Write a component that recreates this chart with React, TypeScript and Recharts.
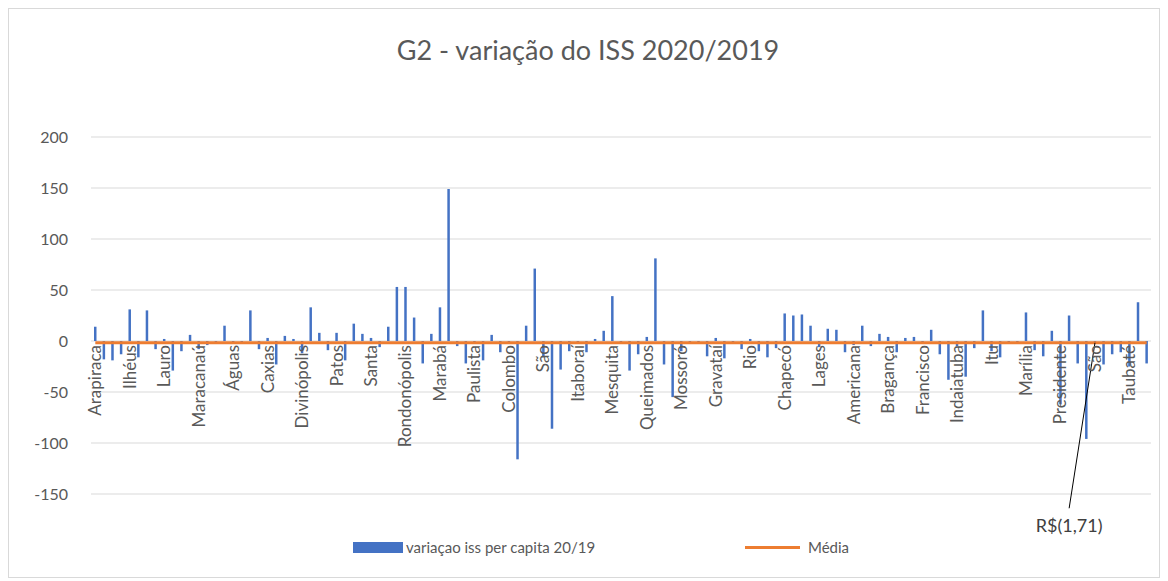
import React from 'react';
import { ComposedChart, Bar, Line, XAxis, YAxis, CartesianGrid, Legend, ReferenceLine, ReferenceDot } from 'recharts';

// ISS per capita variation 2020/2019, one value per city
const variacao = [
  14, -18, -19, -13, 31, -16, 30, -8, 2, -29,
  -10, 6, -8, -4, -1, 15, -1, -1, 30, -8,
  3, -23, 5, 2, -12, 33, 8, -9, 8, -19,
  17, 7, 3, -6, 14, 53, 53, 23, -22, 7,
  33, 149, -5, -22, -1, -19, 6, -11, -2, -116,
  15, 71, -16, -86, -28, -10, -1, -11, 2, 10,
  44, -1, -29, -13, 4, 81, -23, -55, -10, -1,
  -1, -15, 3, -17, -1, -8, 2, -10, -16, -7,
  27, 25, 26, 15, -6, 12, 11, -11, -4, 15,
  -5, 7, 4, -11, 3, 4, -1, 11, -13, -38,
  -5, -35, -7, 30, -10, -16, -1, -1, 28, -9,
  -15, 10, -62, 25, -22, -96, -3, -23, -13, -11,
  -25, 38, -22,
];

// every 4th city name is shown on the axis
const cityLabels = [
  'Arapiraca', 'Ilhéus', 'Lauro', 'Maracanaú', 'Águas', 'Caxias', 'Divinópolis', 'Patos',
  'Santa', 'Rondonópolis', 'Marabá', 'Paulista', 'Colombo', 'São', 'Itaboraí', 'Mesquita',
  'Queimados', 'Mossoró', 'Gravataí', 'Rio', 'Chapecó', 'Lages', 'Americana', 'Bragança',
  'Francisco', 'Indaiatuba', 'Itu', 'Marília', 'Presidente', 'São', 'Taubaté',
];
const LABEL_EVERY = 4;

const MEDIA = -1.71;
const yTicks = [-150, -100, -50, 0, 50, 100, 150, 200];

const data = variacao.map((v, i) => ({ i, variacao: v, media: MEDIA }));

const W = 1150;
const H = 568;
const MARGIN = { top: 128, right: 8, bottom: 0, left: 0 };
const X_AXIS_H = 83;
const Y_MIN = -150;
const Y_MAX = 200;
const PLOT_H = H - MARGIN.top - MARGIN.bottom - X_AXIS_H;
const ZERO_Y = MARGIN.top + (PLOT_H * Y_MAX) / (Y_MAX - Y_MIN);

const FONT = 'Lato, "Noto Sans", sans-serif';
const TEXT = '#595959';
const BLUE = '#4472C4';
const ORANGE = '#ED7D31';

function CityTick({ x, payload }: any) {
  const i = payload.value;
  if (i % LABEL_EVERY !== 0) return null;
  const label = cityLabels[i / LABEL_EVERY];
  const y = ZERO_Y + 4;
  return (
    <text x={x} y={y} transform={`rotate(-90, ${x}, ${y})`} textAnchor="end" dy="0.35em" fill={TEXT} fontSize={17} fontFamily={FONT}>
      {label}
    </text>
  );
}

function LegendBox({ payload }: any) {
  const bar = payload?.find((p: any) => p.dataKey === 'variacao');
  const line = payload?.find((p: any) => p.dataKey === 'media');
  return (
    <div style={{ position: 'relative', height: 20, fontFamily: FONT, fontSize: 15, color: TEXT, lineHeight: '20px' }}>
      <div style={{ position: 'absolute', left: 344, top: 5, width: 50, height: 11, background: BLUE }} />
      <span style={{ position: 'absolute', left: 397, top: 0, whiteSpace: 'nowrap' }}>{bar?.value}</span>
      <div style={{ position: 'absolute', left: 736, top: 9, width: 55, height: 3, background: ORANGE }} />
      <span style={{ position: 'absolute', left: 799, top: 0, whiteSpace: 'nowrap' }}>{line?.value}</span>
    </div>
  );
}

export default function App() {
  return (
    <div style={{ position: 'relative', width: W, height: H, border: '1px solid #d9d9d9', background: '#fff' }}>
      <div style={{ position: 'absolute', left: 0, width: W + 8, top: 25, textAlign: 'center', fontFamily: FONT, fontSize: 27, color: TEXT, lineHeight: '32px' }}>
        G2 - variação do ISS 2020/2019
      </div>
      <ComposedChart width={W} height={H} data={data} margin={MARGIN}>
        <CartesianGrid vertical={false} stroke="#d9d9d9" />
        <XAxis dataKey="i" type="category" interval={0} height={X_AXIS_H} axisLine={false} tickLine={false} tick={<CityTick />} />
        <YAxis
          domain={[Y_MIN, Y_MAX]}
          ticks={yTicks}
          width={82}
          axisLine={false}
          tickLine={false}
          tickSize={0}
          tickMargin={23}
          tick={{ fill: TEXT, fontSize: 16, fontFamily: FONT }}
        />
        <Legend verticalAlign="middle" align="center" layout="horizontal" wrapperStyle={{ top: 528, left: 0, width: W, height: 20 }} content={<LegendBox />} />
        <Bar dataKey="variacao" name="variaçao iss per capita 20/19" fill={BLUE} barSize={2.5} isAnimationActive={false} />
        <Line dataKey="media" name="Média" type="linear" stroke={ORANGE} strokeWidth={3} dot={false} activeDot={false} isAnimationActive={false} />
        <ReferenceLine segment={[{ x: 116, y: MEDIA }, { x: 113, y: -164 }]} stroke="#000" strokeWidth={1} ifOverflow="visible" />
        <ReferenceDot x={113} y={-181} r={0} ifOverflow="visible" label={{ value: 'R$(1,71)', position: 'center', fill: '#404040', fontSize: 18, fontFamily: FONT }} />
      </ComposedChart>
    </div>
  );
}
